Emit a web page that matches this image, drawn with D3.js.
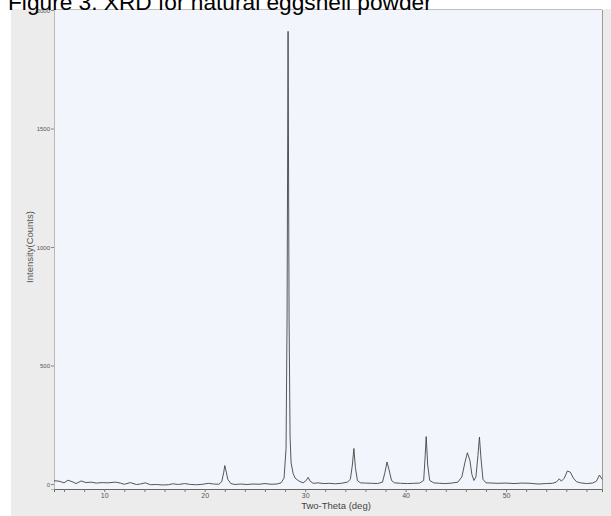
<!DOCTYPE html>
<html>
<head>
<meta charset="utf-8">
<script src="https://cdn.jsdelivr.net/npm/d3@7"></script>
<style>
  body { margin: 0; background: #fff; }
  svg { display: block; font-family: "Liberation Sans", Arial, sans-serif; }
</style>
</head>
<body>
<svg id="chart" width="611" height="516"></svg>
<script>
const title = "Figure 3. XRD for natural eggshell powder";

// two-theta (deg) / intensity (counts)
const twoTheta = [
  5.0, 5.5, 6.0, 6.4, 6.8, 7.2, 7.7, 8.2, 8.7, 9.2, 9.8, 10.4, 11.1, 11.6, 12.0, 12.6, 13.2, 13.6, 14.1, 14.6,
  15.2, 15.8, 16.4, 16.8, 17.4, 18.0, 18.6, 19.2, 19.8, 20.4, 20.9, 21.4, 21.7, 21.9, 22.0, 22.1, 22.3, 22.6,
  23.0, 23.6, 24.2, 24.8, 25.4, 26.0, 26.6, 27.2, 27.6, 27.9, 28.1, 28.2, 28.3, 28.4, 28.5, 28.6, 28.8, 29.0,
  29.4, 29.8, 30.1, 30.3, 30.5, 30.8, 31.3, 31.8, 32.4, 33.0, 33.6, 34.2, 34.5, 34.7, 34.85, 35.0, 35.2, 35.5,
  36.0, 36.6, 37.2, 37.7, 37.95, 38.15, 38.35, 38.6, 38.9, 39.5, 40.2, 40.8, 41.4, 41.8, 41.95, 42.05, 42.2,
  42.4, 42.8, 43.4, 44.0, 44.6, 45.2, 45.6, 45.9, 46.15, 46.4, 46.6, 46.8, 47.0, 47.2, 47.35, 47.5, 47.7, 48.0,
  48.6, 49.2, 50.0, 50.8, 51.6, 52.4, 53.2, 54.0, 54.6, 55.0, 55.3, 55.5, 55.8, 56.1, 56.4, 56.7, 57.0, 57.4,
  58.0, 58.6, 59.0, 59.3, 59.55
];
const intensity = [
  14, 12, 5, 16, 10, 2, 13, 6, 8, 4, 6, 5, 8, 4, -1, 6, -2, 0, 5, -3,
  -2, -4, -3, 1, -2, 2, -2, -3, -1, 3, 0, -1, 10, 50, 78, 60, 20, 2,
  -2, 0, -2, 0, -1, 2, -1, 0, 5, 25, 150, 700, 1910, 700, 200, 90, 45, 25,
  12, 5, 15, 28, 12, 3, 5, 2, 3, 1, 3, 8, 20, 80, 150, 70, 15, 5,
  4, 3, 2, 8, 50, 93, 60, 15, 5, 3, 2, 3, 4, 15, 120, 200, 80,
  15, 5, 3, 2, 4, 8, 30, 90, 132, 100, 40, 15, 30, 120, 198, 110, 20, 5,
  4, 3, 4, 2, 4, 3, 0, 2, 3, 8, 22, 12, 25, 55, 50, 25, 10, 5,
  2, 4, 12, 38, 20
];

const xMajorTicks = [10, 20, 30, 40, 50];
const xMinorTicks = [6, 8, 12, 14, 16, 18, 22, 24, 26, 28, 32, 34, 36, 38, 42, 44, 46, 48, 52, 54, 56, 58];
const yTicks = [0, 500, 1000, 1500, 2000];

const svg = d3.select("#chart");

// scanned page backdrop
svg.append("rect")
  .attr("x", 11).attr("y", 9).attr("width", 600).attr("height", 507)
  .attr("fill", "#ececec");

const plot = { left: 54, right: 602, top: 10, bottom: 489 };

const x = d3.scaleLinear().domain([5, 59.55]).range([plot.left, plot.right]);
const y = d3.scaleLinear().domain([-21, 2000]).range([plot.bottom, plot.top]);

svg.append("rect")
  .attr("x", plot.left).attr("y", plot.top)
  .attr("width", plot.right - plot.left).attr("height", plot.bottom - plot.top)
  .attr("fill", "#f3f5fc");

// frame top / right
svg.append("line")
  .attr("x1", plot.left).attr("x2", plot.right)
  .attr("y1", plot.top - 0.5).attr("y2", plot.top - 0.5)
  .attr("stroke", "#bdbdbd");
svg.append("line")
  .attr("x1", plot.right + 0.5).attr("x2", plot.right + 0.5)
  .attr("y1", plot.top).attr("y2", plot.bottom)
  .attr("stroke", "#9a9a9a");

// y axis
const yAxis = svg.append("g")
  .attr("transform", `translate(${plot.left},0)`)
  .call(d3.axisLeft(y).tickValues(yTicks).tickFormat(d3.format("d")).tickSize(3).tickPadding(1));
yAxis.select(".domain").attr("stroke", "#b8b8b8");
yAxis.selectAll(".tick line").attr("stroke", "#888");
yAxis.selectAll(".tick text")
  .attr("fill", "#555").style("font-size", "6px").attr("dy", "0.35em");

// x axis: minor ticks every 2 deg, labels every 10
const xAxis = svg.append("g")
  .attr("transform", `translate(0,${plot.bottom})`)
  .call(d3.axisBottom(x).tickValues(xMajorTicks.concat(xMinorTicks)).tickSize(3).tickPadding(1)
    .tickFormat(d => xMajorTicks.includes(d) ? d : ""));
xAxis.select(".domain").attr("stroke", "#666");
xAxis.selectAll(".tick line").attr("stroke", "#777");
xAxis.selectAll(".tick text").attr("fill", "#555").style("font-size", "7px");

// pattern
const pts = twoTheta.map((t, i) => [t, intensity[i]]);
svg.append("path")
  .datum(pts)
  .attr("fill", "none")
  .attr("stroke", "#444")
  .attr("stroke-width", 0.9)
  .attr("d", d3.line().x(d => x(d[0])).y(d => y(d[1])));

// labels
svg.append("text")
  .attr("transform", "translate(33,247) rotate(-90)")
  .attr("text-anchor", "middle")
  .attr("fill", "#555")
  .style("font-size", "9.5px")
  .text("Intensity(Counts)");

svg.append("text")
  .attr("x", 336).attr("y", 509)
  .attr("text-anchor", "middle")
  .attr("fill", "#444")
  .style("font-size", "9.5px")
  .text("Two-Theta (deg)");

// title is clipped by the top edge, as in the original scan
svg.append("text")
  .attr("x", 8).attr("y", 10)
  .attr("fill", "#000")
  .style("font-size", "22.7px")
  .text(title);
</script>
</body>
</html>
